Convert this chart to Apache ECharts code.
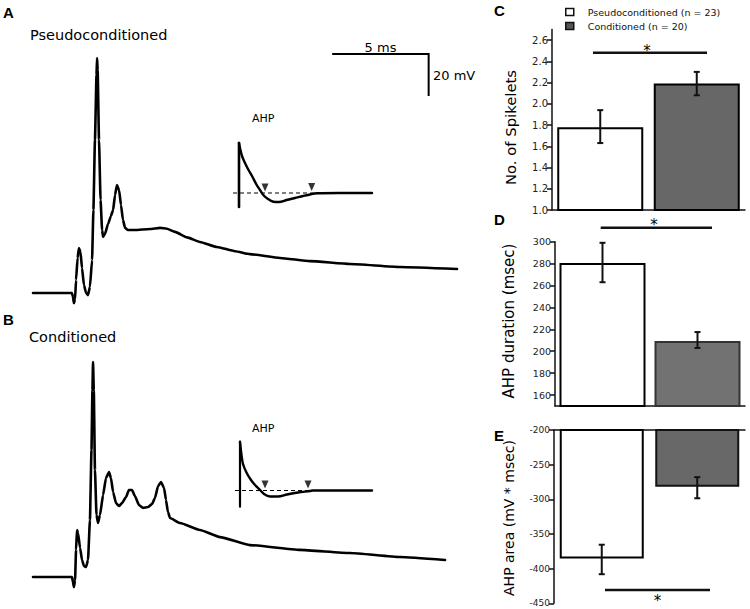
<!DOCTYPE html>
<html>
<head>
<meta charset="utf-8">
<script src="https://cdn.jsdelivr.net/npm/echarts@6/dist/echarts.min.js"></script>
<style>html,body{margin:0;padding:0;background:#fff}#c{width:750px;height:609px}</style>
</head>
<body>
<div id="c"></div>
<script>
// ---------- data ----------
const groups = ['Pseudoconditioned (n = 23)', 'Conditioned (n = 20)'];

// panel C: number of spikelets
const spikelets = [1.78, 2.19];
const spikeletsErr = [[1.63, 1.94], [2.08, 2.30]];
const spikeletTicks = [1.0, 1.2, 1.4, 1.6, 1.8, 2.0, 2.2, 2.4, 2.6];

// panel D: AHP duration (msec)
const ahpDuration = [280.5, 209.3];
const ahpDurationErr = [[263, 299], [203, 217.5]];
const durationTicks = [160, 180, 200, 220, 240, 260, 280, 300];

// panel E: AHP area (mV * msec)
const ahpArea = [-385.5, -281.7];
const ahpAreaErr = [[-408, -365.5], [-298.5, -268]];
const areaTicks = [-450, -400, -350, -300, -250, -200];

// panel A / B recordings: [time (ms), membrane potential (mV)]
const traceA = [[0,-70],[2.02,-70],[2.07,-71.9],[2.12,-74.8],[2.18,-72.9],[2.23,-63.8],[2.31,-53.3],[2.38,-48.6],[2.46,-50.5],[2.54,-58.1],[2.64,-66.2],[2.75,-70],[2.85,-71],[2.95,-67.1],[3.06,-54.3],[3.13,-30.5],[3.21,2.9],[3.29,33.8],[3.32,41.9],[3.35,36.2],[3.42,2.9],[3.50,-25.7],[3.58,-40],[3.63,-43.3],[3.73,-41.9],[3.89,-37.1],[4.04,-33.3],[4.15,-30.5],[4.25,-23.3],[4.35,-18.6],[4.46,-21],[4.56,-28.1],[4.66,-35.2],[4.77,-39],[4.92,-40],[5.28,-40],[6.06,-39.5],[6.58,-39],[6.94,-39.4],[7.36,-40.9],[7.98,-43.5],[8.65,-45.7],[9.53,-48.1],[10.47,-50.1],[11.24,-51.5],[12.8,-53.3],[14.35,-54.8],[16.42,-56.2],[19.02,-57.6],[21.97,-58.6]];
const traceB = [[0,-70],[2.02,-70],[2.07,-72.4],[2.12,-74.8],[2.18,-71.4],[2.23,-57.1],[2.28,-47.6],[2.33,-49],[2.44,-56.2],[2.54,-61.9],[2.64,-64.8],[2.75,-65.2],[2.85,-61.9],[2.95,-42.9],[3.03,-9.5],[3.08,19],[3.11,32.4],[3.15,19],[3.21,-19],[3.29,-40.5],[3.37,-44.3],[3.47,-40.5],[3.63,-31],[3.78,-22.9],[3.94,-20],[4.04,-22.9],[4.15,-29.5],[4.3,-34.8],[4.46,-36.2],[4.61,-34.8],[4.82,-31.9],[4.97,-28.6],[5.13,-28.6],[5.28,-31.4],[5.49,-35.7],[5.7,-37.1],[5.96,-36.7],[6.17,-35.2],[6.32,-32.4],[6.48,-26.7],[6.63,-24.8],[6.79,-27.6],[6.89,-33.3],[6.99,-39],[7.1,-41.9],[7.62,-44.3],[8.65,-47.6],[9.69,-51],[11.24,-54.8],[13.83,-57.1],[16.42,-58.6],[19.02,-60.5],[21.35,-61.9]];
// scale bar: 5 ms x 20 mV
const scaleBar = [[15.5, 43.8], [20.5, 43.8], [20.5, 23.8]];

// AHP insets: [time, potential relative to rest]
const ahpCurveA = [[0,50],[1,45],[3,37],[6,30],[9,24],[13,17],[17.7,8],[21,3],[24.3,-2],[29,-6],[34.3,-8.7],[40,-9],[47.7,-7],[56,-5],[64,-3],[72,-1.2],[78,-0.3],[100,0],[133,0]];
const ahpStimA = [[0,-14],[0,50]];
const ahpRestA = [[-6,0],[133,0]];
const ahpMarksA = [[26,5.5],[72.7,6]];
const ahpCurveB = [[0,48.5],[1.5,35.5],[3,26.5],[6.7,17.5],[11,10.5],[15,5.5],[20,0.5],[24,-3.5],[30,-6],[38,-6],[47,-4],[58,-2],[70,-0.5],[73,0],[132,0]];
const ahpStimB = [[0,48.8],[0,-16.2]];
const ahpRestB = [[-5,0],[132,0]];
const ahpMarksB = [[25,6],[68,6]];

// ---------- chart ----------
const chart = echarts.init(document.getElementById('c'), null, {renderer: 'svg'});
const FONT = 'DejaVu Sans';
const AX = {color: '#111', width: 1.5};

function hiddenAxis(gi, min, max) { return {type: 'value', gridIndex: gi, min, max, show: false}; }
function catAxis(gi, pos) {
  return {type: 'category', gridIndex: gi, data: groups, position: pos,
    axisLine: {show: true, onZero: false, lineStyle: AX}, axisTick: {show: false}, axisLabel: {show: false}};
}
function valAxis(gi, min, max, ticks, fmt, fs) {
  return {type: 'value', gridIndex: gi, min, max,
    axisLine: {show: true, onZero: false, lineStyle: AX},
    axisTick: {show: true, length: 5, customValues: ticks, lineStyle: AX},
    axisLabel: {customValues: ticks, formatter: fmt, fontFamily: FONT, fontSize: fs, color: '#222', margin: 4},
    splitLine: {show: false}};
}
function traceLine(gi, data, w, extra) {
  return Object.assign({type: 'line', xAxisIndex: gi, yAxisIndex: gi, data, showSymbol: false, silent: true,
    lineStyle: {color: '#000', width: w, join: 'round', cap: 'round'}, animation: false}, extra || {});
}
function bars(gi, vals, grey, greyBorder, bw) {
  return [
    {type: 'bar', name: groups[0], xAxisIndex: gi, yAxisIndex: gi, data: [vals[0], '-'], barWidth: bw, barGap: '-100%',
      itemStyle: {color: '#fff', borderColor: '#000', borderWidth: 2}, silent: true},
    {type: 'bar', name: groups[1], xAxisIndex: gi, yAxisIndex: gi, data: ['-', vals[1]], barWidth: bw, barGap: '-100%',
      itemStyle: {color: grey, borderColor: greyBorder, borderWidth: 2}, silent: true}
  ];
}
function errBars(gi, errs) {
  return {type: 'custom', xAxisIndex: gi, yAxisIndex: gi, silent: true, z: 5,
    data: errs.map((e, i) => [i, e[0], e[1]]), encode: {x: 0, y: [1, 2]},
    renderItem(params, api) {
      const lo = api.coord([api.value(0), api.value(1)]);
      const hi = api.coord([api.value(0), api.value(2)]);
      const st = {stroke: '#111', lineWidth: 2};
      const w = 3;
      return {type: 'group', children: [
        {type: 'line', shape: {x1: lo[0], y1: lo[1], x2: hi[0], y2: hi[1]}, style: st},
        {type: 'line', shape: {x1: lo[0] - w, y1: lo[1], x2: lo[0] + w, y2: lo[1]}, style: st},
        {type: 'line', shape: {x1: hi[0] - w, y1: hi[1], x2: hi[0] + w, y2: hi[1]}, style: st}
      ]};
    }};
}
function txt(x, y, text, font, opts) {
  return Object.assign({type: 'text', x, y, silent: true,
    style: Object.assign({text, font, fill: '#000', align: 'left', verticalAlign: 'middle'}, (opts && opts.style) || {})},
    (opts && opts.el) || {});
}
function hline(x1, x2, y, w) {
  return {type: 'line', silent: true, shape: {x1, y1: y, x2, y2: y}, style: {stroke: '#111', lineWidth: w}};
}

const option = {
  animation: false,
  backgroundColor: '#fff',
  grid: [
    {left: 33, top: 41, width: 424.6, height: 262.5},   // 0 trace A
    {left: 229, top: 130, width: 150, height: 85},      // 1 inset A
    {left: 33, top: 325, width: 424.6, height: 262.5},  // 2 trace B
    {left: 230, top: 430, width: 150, height: 85},      // 3 inset B
    {left: 552, top: 29.4, width: 193, height: 180.6},  // 4 C
    {left: 555, top: 241.7, width: 190, height: 164.3}, // 5 D
    {left: 554, top: 430, width: 191, height: 173.3}    // 6 E
  ],
  xAxis: [hiddenAxis(0, 0, 22), hiddenAxis(1, -10, 140), hiddenAxis(2, 0, 22), hiddenAxis(3, -10, 140),
    catAxis(4, 'bottom'), catAxis(5, 'bottom'), catAxis(6, 'top')],
  yAxis: [hiddenAxis(0, -75, 50), hiddenAxis(1, -22, 63), hiddenAxis(2, -75, 50), hiddenAxis(3, -24.5, 60.5),
    valAxis(4, 1.0, 2.7, spikeletTicks, v => v.toFixed(1), 10),
    valAxis(5, 150, 300, durationTicks, v => String(v), 9.5),
    valAxis(6, -450, -200, areaTicks, v => String(v), 9)],
  legend: {
    orient: 'vertical', left: 560, top: 1, itemWidth: 8, itemHeight: 7, itemGap: 2, selectedMode: false,
    textStyle: {fontFamily: FONT, fontSize: 9.5, color: '#111', lineHeight: 12, padding: [0, 0, 0, 9]},
    data: [
      {name: groups[0], icon: 'rect', itemStyle: {color: '#fff', borderColor: '#111', borderWidth: 1.5}},
      {name: groups[1], icon: 'rect', itemStyle: {color: '#555', borderColor: '#111', borderWidth: 1.5}}
    ]
  },
  series: [
    traceLine(0, traceA, 2.6, {smooth: 0.15, smoothMonotone: 'x'}),
    traceLine(0, scaleBar, 2, {lineStyle: {color: '#000', width: 2, join: 'miter', cap: 'butt'}}),
    traceLine(1, ahpStimA, 2.6),
    traceLine(1, ahpCurveA, 2.4, {smooth: 0.3}),
    traceLine(1, ahpRestA, 1.2, {lineStyle: {color: '#000', width: 1.2, type: [4, 3]}}),
    {type: 'scatter', xAxisIndex: 1, yAxisIndex: 1, data: ahpMarksA, symbol: 'triangle', symbolRotate: 180,
      symbolSize: [7, 8], itemStyle: {color: '#000'}, silent: true},
    traceLine(2, traceB, 2.6, {smooth: 0.15, smoothMonotone: 'x'}),
    traceLine(3, ahpStimB, 2.2),
    traceLine(3, ahpCurveB, 2.4, {smooth: 0.3}),
    traceLine(3, ahpRestB, 1.2, {lineStyle: {color: '#000', width: 1.2, type: [4, 3]}}),
    {type: 'scatter', xAxisIndex: 3, yAxisIndex: 3, data: ahpMarksB, symbol: 'triangle', symbolRotate: 180,
      symbolSize: [7, 8], itemStyle: {color: '#000'}, silent: true},
    ...bars(4, spikelets, '#676767', '#000', 86),
    errBars(4, spikeletsErr),
    ...bars(5, ahpDuration, '#727272', '#333', 86),
    errBars(5, ahpDurationErr),
    ...bars(6, ahpArea, '#686868', '#111', 84),
    errBars(6, ahpAreaErr)
  ],
  graphic: [
    txt(3, 12, 'A', 'bold 15px "Liberation Sans"'),
    txt(3, 319, 'B', 'bold 15px "Liberation Sans"'),
    txt(494, 10, 'C', 'bold 15px "Liberation Sans"'),
    txt(494, 219, 'D', 'bold 15px "Liberation Sans"'),
    txt(494, 435, 'E', 'bold 15px "Liberation Sans"'),
    txt(30, 35, 'Pseudoconditioned', '14.5px "DejaVu Sans"'),
    txt(29, 337, 'Conditioned', '14.5px "DejaVu Sans"'),
    txt(252, 118, 'AHP', '11px "DejaVu Sans"'),
    txt(252, 428, 'AHP', '11px "DejaVu Sans"'),
    txt(380.5, 47, '5 ms', '13px "DejaVu Sans"', {style: {align: 'center'}}),
    txt(433, 75, '20 mV', '13px "DejaVu Sans"'),
    txt(510, 127.5, 'No. of Spikelets', '14.8px "DejaVu Sans"', {style: {align: 'center'}, el: {rotation: Math.PI / 2}}),
    txt(509, 321, 'AHP duration (msec)', '15px "DejaVu Sans"', {style: {align: 'center'}, el: {rotation: Math.PI / 2}}),
    txt(509, 518, 'AHP area (mV * msec)', '14px "DejaVu Sans"', {style: {align: 'center'}, el: {rotation: Math.PI / 2}}),
    hline(593, 707, 52.7, 2.6),
    txt(647, 50.5, '*', '15px "DejaVu Sans"', {style: {align: 'center'}}),
    hline(600.7, 712, 227.7, 2.6),
    txt(654, 225, '*', '15px "DejaVu Sans"', {style: {align: 'center'}}),
    hline(605, 710, 590, 2.6),
    txt(657.5, 601, '*', '15px "DejaVu Sans"', {style: {align: 'center'}})
  ]
};
chart.setOption(option);
</script>
</body>
</html>
